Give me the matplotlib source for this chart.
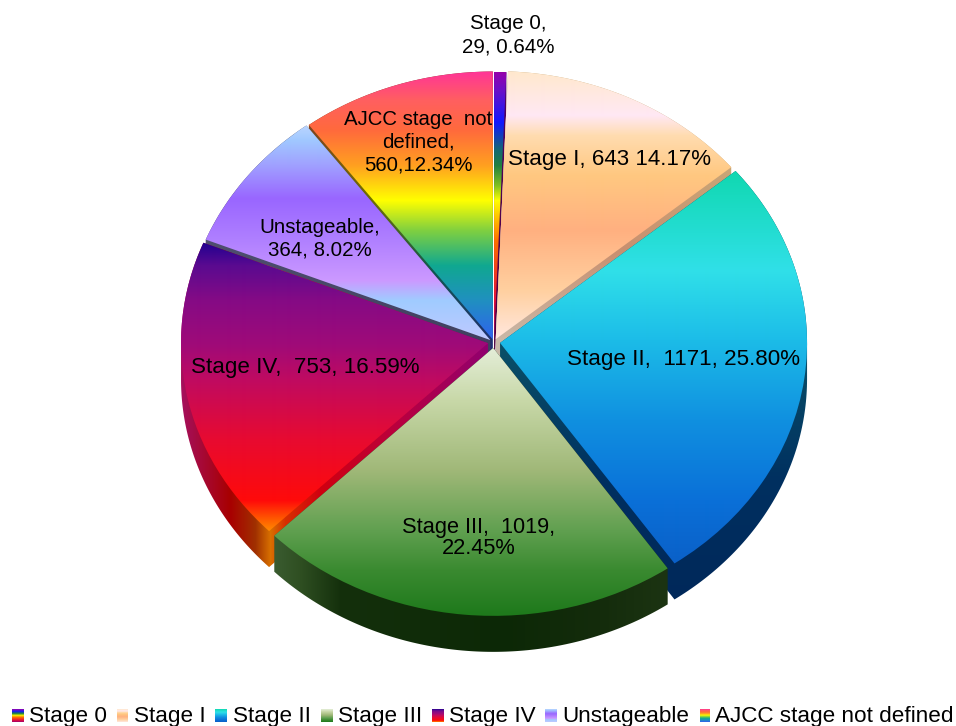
import numpy as np
import matplotlib
matplotlib.use("Agg")
import matplotlib.pyplot as plt
from matplotlib.colors import to_rgb
from matplotlib.patches import PathPatch
from matplotlib.path import Path

stages = ["Stage 0", "Stage I", "Stage II", "Stage III", "Stage IV", "Unstageable", "AJCC stage not defined"]
counts = [29, 643, 1171, 1019, 753, 364, 560]
slice_labels = ["Stage 0,\n29, 0.64%", "Stage I, 643 14.17%", "Stage II,  1171, 25.80%",
                "Stage III,  1019,\n22.45%", "Stage IV,  753, 16.59%",
                "Unstageable,\n364, 8.02%", "AJCC stage  not\ndefined,\n560,12.34%"]
label_xy = [(508, 35), (610, 160), (684, 359), (479, 538), (305, 367), (320, 239), (418, 142)]
label_size = [14.8, 16.1, 16.1, 15.7, 16.1, 14.8, 14.7]
label_spacing = [1.3, 1.1, 1.1, 1.05, 1.1, 1.25, 1.25]
explode = [0.0075, 0.012, 0.02, 0.022, 0.02, 0.014, 0.01]
# the 3D view in the original pulls the slice edges away from their true angle (degrees)
view_skew = [0, 0, -3.2, -0.8, -1.5, 5.3, 7.6, 0]

# top surface colours, (pixel row, colour)
top_stops = [
    [(70, "#9a00a8"), (90, "#6a10c8"), (122, "#1018ff"), (150, "#146a70"), (165, "#208040"), (185, "#80c020"),
     (200, "#ffff00"), (240, "#ff7000"), (300, "#e81038"), (340, "#a00070")],
    [(70, "#ffe8cc"), (115, "#ffe8f4"), (135, "#ffdcb0"), (175, "#ffc880"), (230, "#ffb080"), (290, "#ffd0a0"), (340, "#ffe8e0")],
    [(170, "#10d8b0"), (270, "#30e0e8"), (340, "#1cbce8"), (420, "#1090e0"), (500, "#0a70d8"), (563, "#0a60c8")],
    [(348, "#e4eed8"), (400, "#c8d8a8"), (470, "#a0b878"), (530, "#60a050"), (570, "#3a8a30"), (613, "#1f7a1c")],
    [(240, "#1c0090"), (265, "#5a0a90"), (300, "#850a85"), (345, "#a00a78"), (380, "#c00a60"), (440, "#e80a30"),
     (500, "#ff0a0a"), (520, "#ff6000"), (532, "#ff9000")],
    [(122, "#c0d8ff"), (140, "#a0c8ff"), (165, "#a0a0ff"), (198, "#9966ff"), (240, "#b080ff"), (280, "#cc99ff"),
     (300, "#a0ccff"), (340, "#c0c8ff")],
    [(70, "#ff3399"), (100, "#ff5f60"), (130, "#ff6a3c"), (165, "#ffa020"), (200, "#ffff00"), (230, "#80d040"),
     (265, "#10a890"), (300, "#2090c0"), (340, "#3060f0")],
]
# side wall colours, (pixel position, colour): rows, except III and IV which run along columns
wall_stops = [
    [(70, "#500060"), (340, "#500040")],
    [(160, "#c8a878"), (250, "#c89070"), (340, "#c8b8a8")],
    [(345, "#0a5068"), (480, "#003060"), (600, "#00285a")],
    [(274, "#3a5c30"), (300, "#2f4f22"), (340, "#14300c"), (500, "#0c2806"), (600, "#142c0c"), (668, "#1c3412")],
    [(180, "#a5105f"), (230, "#a80000"), (255, "#a03000"), (270, "#d87000"), (285, "#d83000"), (320, "#d00010"),
     (400, "#b80040"), (488, "#900070")],
    [(235, "#505070"), (340, "#404060")],
    [(120, "#804020"), (200, "#707000"), (270, "#105850"), (340, "#203070")],
]
wall_horizontal = [False, False, False, True, True, False, False]

legend_swatch = [(12, 24), (117, 128), (215, 227), (321, 333), (432, 444), (545, 557), (700, 710)]
legend_text_x = [29, 134, 233, 338, 449, 562, 715]

W, H = 956, 726
cx, cy, rx, ry = 494, 342, 307, 268
depth = 36 / ry
plt.rcParams["font.family"] = ["Liberation Sans", "DejaVu Sans"]


def ramp(stops, n, lo=0):
    pos = [s[0] for s in stops]
    cols = np.array([to_rgb(s[1]) for s in stops])
    grid = np.arange(n) + lo
    return np.stack([np.interp(grid, pos, cols[:, k]) for k in range(3)], axis=-1)


def hull(points):
    # outline of the extruded slice, monotone chain
    pts = sorted(map(tuple, points))

    def half(seq):
        out = []
        for p in seq:
            while len(out) > 1 and ((out[-1][0] - out[-2][0]) * (p[1] - out[-2][1])
                                    - (out[-1][1] - out[-2][1]) * (p[0] - out[-2][0])) <= 0:
                out.pop()
            out.append(p)
        return out[:-1]

    loop = half(pts) + half(pts[::-1])
    return np.array(loop + loop[:1])


fig = plt.figure(figsize=(W / 100, H / 100), dpi=100)
ax = fig.add_axes([0, 0, 1, 1])
wedges, _ = ax.pie(counts, startangle=90, counterclock=False, explode=explode, radius=1)
ax.set_aspect("auto")
xlim = (-cx / rx, (W - cx) / rx)
ylim = ((cy - H) / ry, cy / ry)
full = (xlim[0], xlim[1], ylim[0], ylim[1])

for i, w in enumerate(wedges):
    w.set_theta2(w.theta2 - view_skew[i])
    w.set_theta1(w.theta1 - view_skew[i + 1])
    w.set_facecolor("none")
    w.set_edgecolor("none")

# back to front
order = [0, 6, 5, 1, 2, 4, 3]
z = 2
for i in order:
    w = wedges[i]
    x0, y0 = w.center
    t = np.radians(np.linspace(w.theta1, w.theta2, 120))
    outline = np.vstack([[x0, y0], np.column_stack([x0 + np.cos(t), y0 + np.sin(t)])])
    wall_patch = PathPatch(Path(hull(np.vstack([outline, outline - [0, depth]]))), transform=ax.transData,
                           facecolor="none", edgecolor="none")
    ax.add_patch(wall_patch)
    if wall_horizontal[i]:
        img = ramp(wall_stops[i], W)[np.newaxis, :, :]
    else:
        img = ramp(wall_stops[i], H)[:, np.newaxis, :]
    im = ax.imshow(img, extent=full, aspect="auto", origin="upper", zorder=z, interpolation="bilinear")
    im.set_clip_path(wall_patch)
    z += 1
    im = ax.imshow(ramp(top_stops[i], H)[:, np.newaxis, :], extent=full, aspect="auto", origin="upper",
                   zorder=z, interpolation="bilinear")
    im.set_clip_path(w)
    z += 1

ax.set_xlim(xlim)
ax.set_ylim(ylim)
ax.axis("off")

ov = fig.add_axes([0, 0, 1, 1], facecolor="none")
for i, lab in enumerate(slice_labels):
    x, y = label_xy[i]
    ov.text(x, y, lab, ha="center", va="center", fontsize=label_size[i], color="black", linespacing=label_spacing[i])

for i, name in enumerate(stages):
    x1, x2 = legend_swatch[i]
    lo, hi = top_stops[i][0][0], top_stops[i][-1][0]
    sw = ramp(top_stops[i], hi - lo + 1, lo)[:, np.newaxis, :]
    ov.imshow(sw, extent=(x1, x2, 722, 709), aspect="auto", origin="upper", interpolation="bilinear")
    ov.text(legend_text_x[i], 722, name, ha="left", va="baseline", fontsize=16.2, color="black")
ov.set_xlim(0, W)
ov.set_ylim(H, 0)
ov.axis("off")

plt.savefig("out.png", dpi=100)
